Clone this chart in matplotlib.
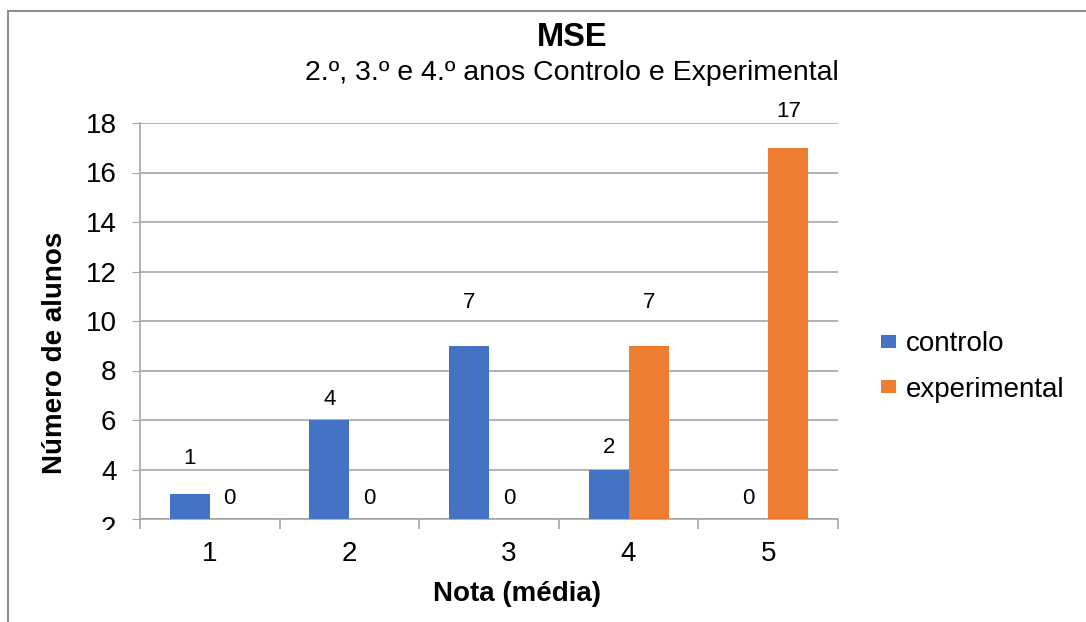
import numpy as np
import matplotlib
matplotlib.use("Agg")
import matplotlib.pyplot as plt
from matplotlib.patches import Rectangle
from matplotlib.transforms import Bbox, TransformedBbox, ScaledTranslation

plt.rcParams['font.family'] = ['Liberation Sans', 'DejaVu Sans']

# data
notas = ['1', '2', '3', '4', '5']
controlo_alturas = [3, 6, 9, 4, 0]
experimental_alturas = [0, 0, 0, 9, 17]
controlo_rotulos = ['1', '4', '7', '2', '0']
experimental_rotulos = ['0', '0', '0', '7', '17']
y_ticks = [2, 4, 6, 8, 10, 12, 14, 16, 18]

# label offsets above the bar tops (points), as they appear in the picture
controlo_desvios = [26, 15, 31, 16, 15]
experimental_desvios = [15, 15, 15, 31, 26]

azul = '#4472C4'
laranja = '#ED7D31'
grelha = '#A6A6A6'

fig = plt.figure(figsize=(10.86, 6.22), dpi=100)
ax = fig.add_axes([140 / 1086, 1 - 519 / 622, 698 / 1086, 396 / 622])

x = np.arange(len(notas))
w = 40 / 139.6
base = 2
ctrl = ax.bar(x - w / 2, np.array(controlo_alturas) - base, w, bottom=base,
              color=azul, label='controlo', zorder=3)
expe = ax.bar(x + w / 2, np.array(experimental_alturas) - base, w, bottom=base,
              color=laranja, label='experimental', zorder=3)

# data labels
for barras, rotulos, desvios in [(ctrl, controlo_rotulos, controlo_desvios),
                                 (expe, experimental_rotulos, experimental_desvios)]:
    for b, r, d in zip(barras, rotulos, desvios):
        topo = max(b.get_y() + b.get_height(), base)
        ax.annotate(r, (b.get_x() + b.get_width() / 2, topo), xytext=(0, d),
                    textcoords='offset points', ha='center', va='center',
                    fontsize=16, zorder=4)

ax.set_xlim(-0.5, len(notas) - 0.5)
ax.set_ylim(2, 18)
ax.set_yticks(y_ticks)
ax.tick_params(axis='y', labelsize=20, length=6, color=grelha, pad=11)
ax.yaxis.grid(True, color=grelha, linewidth=1.2, zorder=0)

ax.set_xticks(x)
ax.set_xticklabels(notas)
ax.tick_params(axis='x', labelsize=20, length=0, pad=16)
ax.set_xticks(np.arange(len(notas) + 1) - 0.5, minor=True)
ax.tick_params(axis='x', which='minor', length=7, color=grelha, width=1.2)
# the "3" sits a bit to the right in the original
lbl3 = ax.get_xticklabels()[2]
lbl3.set_transform(lbl3.get_transform() + ScaledTranslation(0.2, 0, fig.dpi_scale_trans))

for s in ['top', 'right']:
    ax.spines[s].set_visible(False)
ax.spines['left'].set_color(grelha)
ax.spines['bottom'].set_color(grelha)
ax.spines['left'].set_linewidth(1.2)
ax.spines['bottom'].set_linewidth(1.2)

ax.set_ylabel('Número de alunos', fontsize=20, fontweight='bold')
ax.yaxis.set_label_coords(-72 / 698, 166 / 396)
ax.set_xlabel('Nota (média)', fontsize=20, fontweight='bold')
ax.xaxis.set_label_coords(377 / 698, -62 / 396)

# the lowest tick label sits lower and is cut off in the original
fig.canvas.draw()
lbl2 = ax.get_yticklabels()[0]
lbl2.set_transform(lbl2.get_transform() + ScaledTranslation(0, -0.07, fig.dpi_scale_trans))
corte = TransformedBbox(Bbox([[0, (622 - 530) / 622], [1, 1]]), fig.transFigure)
for lbl in ax.get_yticklabels():
    lbl.set_clip_on(True)
    lbl.set_clip_box(corte)

fig.text(572 / 1086, 1 - 37 / 622, 'MSE', ha='center', va='center',
         fontsize=23.5, fontweight='bold')
fig.text(572 / 1086, 1 - 73 / 622, '2.º, 3.º e 4.º anos Controlo e Experimental',
         ha='center', va='center', fontsize=20.5)

fig.legend(handles=[ctrl, expe], loc='center left', bbox_to_anchor=(856 / 1086, 1 - 367 / 622),
           frameon=False, fontsize=20, handlelength=0.55, handleheight=0.35,
           handletextpad=0.35, labelspacing=0.7)

fig.patches.append(Rectangle((8 / 1086, -0.1), 1.2, 1.1 - 11 / 622, transform=fig.transFigure,
                             fill=False, edgecolor='#8C8C8C', linewidth=1.5))

fig.savefig('out.png', dpi=100)
